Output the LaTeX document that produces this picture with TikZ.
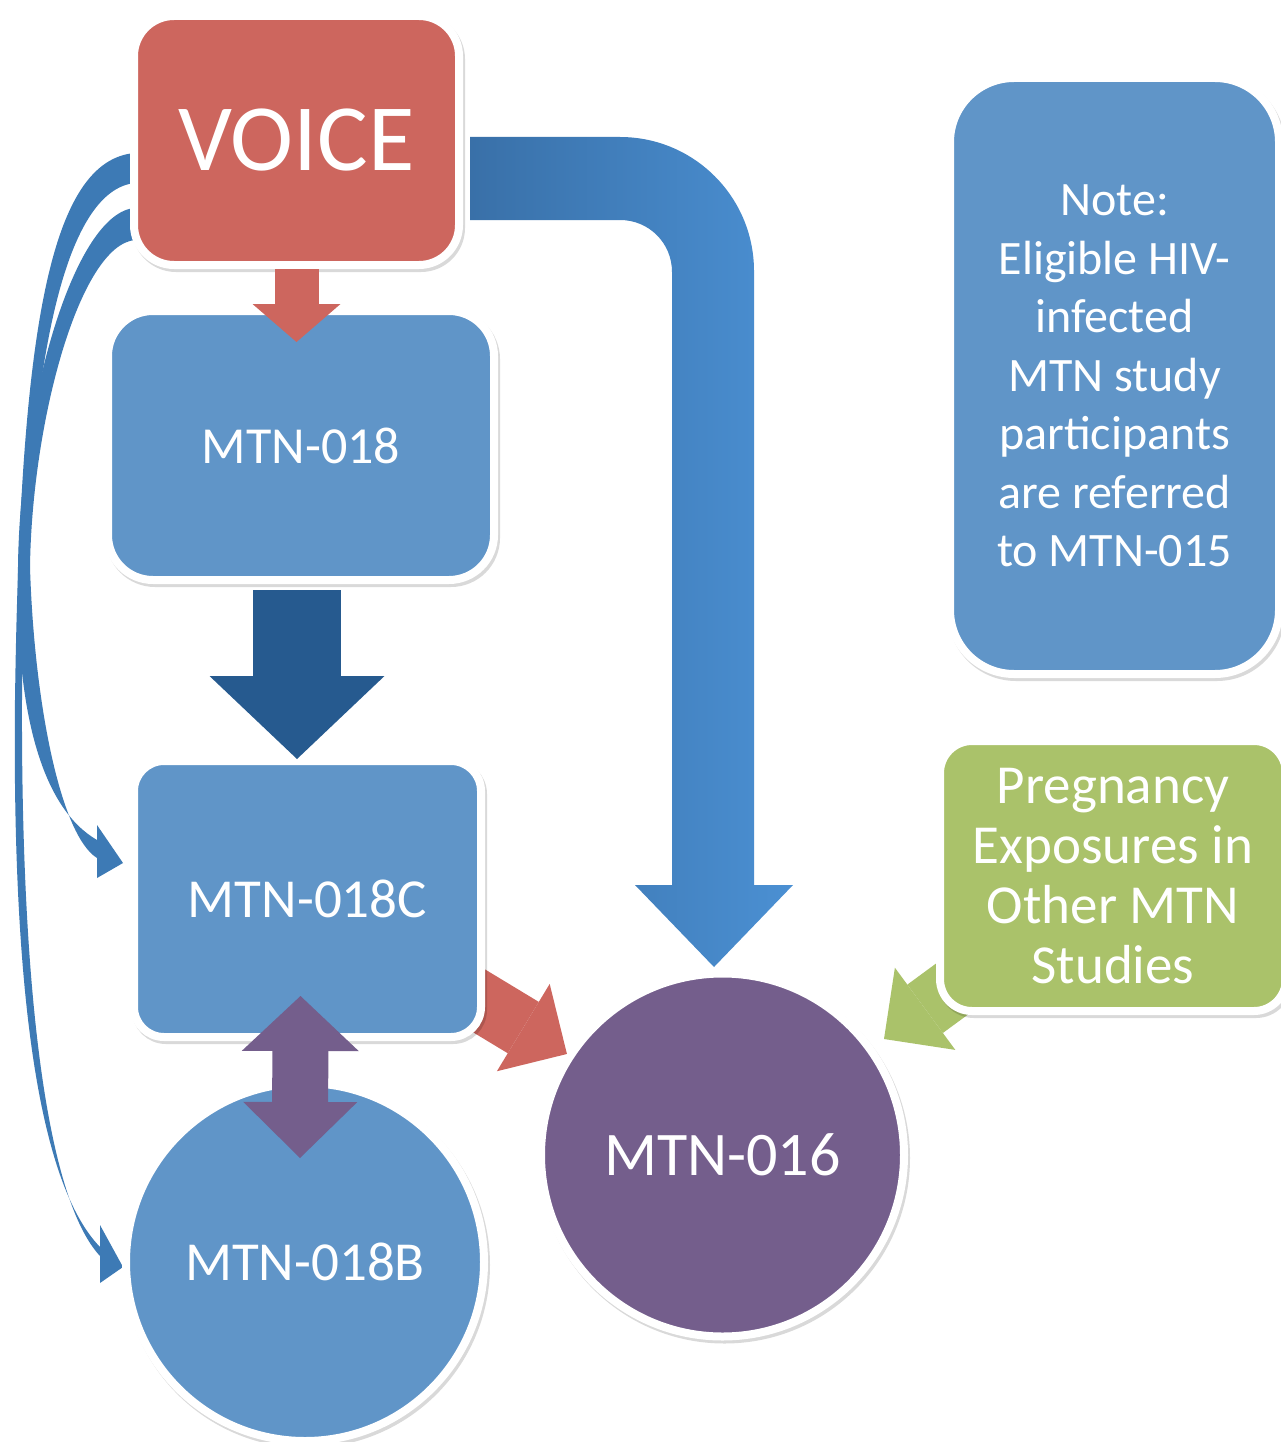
\documentclass[tikz,border=0pt]{standalone}
\usepackage{fontspec}
\setmainfont{Carlito}
\usetikzlibrary{arrows.meta,shadows,backgrounds,calc}
\definecolor{voicered}{RGB}{205,102,94}
\definecolor{panelblue}{RGB}{96,149,200}
\definecolor{curveblue}{RGB}{61,122,181}
\definecolor{elbowleft}{RGB}{57,112,168}
\definecolor{elbowright}{RGB}{75,144,211}
\definecolor{deepblue}{RGB}{38,90,143}
\definecolor{plum}{RGB}{116,94,140}
\definecolor{leafgreen}{RGB}{170,194,106}
\tikzset{
    panel/.style={draw=white, line width=8pt, text=white, inner sep=0pt,
        drop shadow={shadow xshift=2pt, shadow yshift=-3pt, opacity=.15, draw=black}},
    boxpanel/.style={panel, rectangle, rounded corners=#1},
    roundpanel/.style={panel, circle},
    blockarrow/.style n args={3}{line width=#1,
        -{Triangle[width=#2, length=#3, line width=0pt]}},
}

\begin{document}
\begin{tikzpicture}[x=1pt,y=-1pt]
    \useasboundingbox (0,0) rectangle (1280,1442);
    % boxes and circles
    \node[roundpanel, fill=plum, minimum size=363pt, font=\fontsize{62}{74}\selectfont] (m016) at (722.5,1155) {MTN-016};
    \node[roundpanel, fill=panelblue, minimum size=358pt, font=\fontsize{55}{66}\selectfont] (m018b) at (305,1262) {MTN-018B};
    \node[boxpanel=30pt, fill=panelblue, minimum width=347pt, minimum height=276pt, font=\fontsize{55}{66}\selectfont] (m018c) at (307.5,899) {MTN-018C};
    \node[boxpanel=45pt, fill=panelblue, minimum width=386pt, minimum height=269pt, font=\fontsize{52}{62}\selectfont] (m018) at (301,445.5) {MTN-018};
    \node[boxpanel=40pt, fill=voicered, minimum width=325pt, minimum height=249pt, font=\fontsize{95}{114}\selectfont] (voice) at (296.5,140.5) {VOICE};
    \node[boxpanel=64pt, fill=panelblue, minimum width=329pt, minimum height=596pt, align=center, font=\fontsize{48}{58.5}\selectfont] (note) at (1114.5,376)
        {Note:\\Eligible HIV-\\infected\\MTN study\\participants\\are referred\\to MTN-015};
    \node[boxpanel=32pt, fill=leafgreen, minimum width=346pt, minimum height=270pt, align=center, font=\fontsize{55}{60}\selectfont] (preg) at (1113,876)
        {Pregnancy\\Exposures in\\Other MTN\\Studies};

    \begin{pgfonlayer}{background}
        \fill[white] (0,0) rectangle (1280,1442);
        % curved arrows on the left
        \fill[curveblue] (135,208) .. controls (75,212) and (20,400) .. (18,567)
            .. controls (15,720) and (45,810) .. (97,840) -- (97,825) -- (123,863) -- (97,878) -- (97,858)
            .. controls (60,835) and (34,700) .. (30,567) .. controls (32,420) and (80,245) .. (135,240) -- cycle;
        \fill[curveblue] (135,153) .. controls (50,160) and (20,330) .. (15,700)
            .. controls (12,1000) and (40,1185) .. (100,1247) -- (100,1225) -- (123,1267) -- (100,1283) -- (100,1256)
            .. controls (48,1200) and (21,1000) .. (22,700) .. controls (24,360) and (65,190) .. (135,183) -- cycle;
        % elbow arrow
        \shade[left color=elbowleft, right color=elbowright] (470,137) -- (620,137)
            .. controls (694,137) and (754,197) .. (754,271) -- (754,885) -- (793,885) -- (714,967)
            -- (635,885) -- (672,885) -- (672,272) .. controls (672,243) and (649,220) .. (620,220) -- (470,220) -- cycle;
        \draw[voicered, blockarrow={60pt}{102pt}{51pt}] ($(m016.147)+(-129,-78)$) -- (m016.147);
        \draw[leafgreen, blockarrow={60pt}{102pt}{51pt}] ($(preg.south west)+(65,-62)$) -- ($(m016.center)+(161.5,-116)$);
    \end{pgfonlayer}

    \draw[voicered, blockarrow={44pt}{88pt}{38pt}] (voice.south) -- ++(0,73);
    \draw[deepblue, blockarrow={88pt}{175pt}{83pt}] ([xshift=-4pt,yshift=-6pt]m018.south) -- ++(0,169);
    \draw[plum, line width=56pt, {Triangle[width=117pt, length=55pt, line width=0pt]}-{Triangle[width=114pt, length=56pt, line width=0pt]}]
        ([xshift=-7pt,yshift=45pt]m018c.south) -- ([xshift=-5pt,yshift=-79pt]m018b.north);
\end{tikzpicture}
\end{document}
